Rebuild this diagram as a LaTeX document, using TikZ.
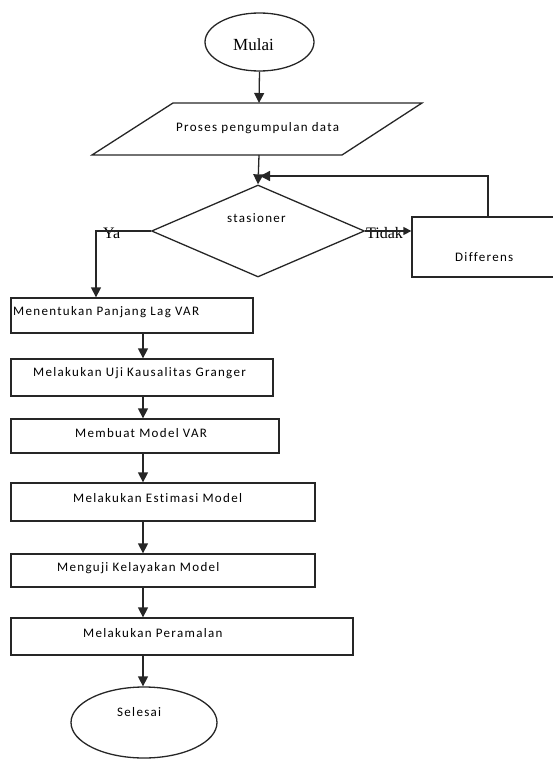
\documentclass[tikz,border=0pt]{standalone}
\usepackage{fontspec}
\setmainfont{Liberation Serif}
\newfontfamily\calfont[LetterSpace=10,Ligatures=NoCommon]{Carlito}
\usetikzlibrary{arrows.meta,shapes.geometric}
\begin{document}
\begin{tikzpicture}[x=1pt,y=-1pt,
  ln/.style={draw=black!85,line width=1.3pt},
  arr/.style={ln,-{Triangle[length=10pt,width=10pt]}},
  lbl/.style={font=\calfont\fontsize{13}{15}\selectfont,inner sep=0pt,anchor=west},
  ser/.style={font=\fontsize{16}{18}\selectfont,inner sep=0pt,anchor=west},
  box/.style={ln,rectangle,inner sep=0pt},
  oval/.style={ln,ellipse,inner sep=0pt}]
\useasboundingbox (0,0) rectangle (553,760);
\clip (0,0) rectangle (553,760);
% start / end
\node[oval,minimum width=109pt,minimum height=58pt] (m) at (259.5,42) {};
\node[oval,minimum width=146pt,minimum height=71pt] (s) at (144,722.5) {};
% parallelogram
\coordinate (p1) at (92,155);
\coordinate (p2) at (173,103);
\coordinate (p3) at (422,103);
\coordinate (p4) at (342,155);
\draw[ln] (p1) -- (p2) -- (p3) -- (p4) -- cycle;
\coordinate (ptop) at (259,103);
\coordinate (pbot) at (259,155);
% decision
\node[ln,diamond,inner sep=0pt,minimum width=213pt,minimum height=92pt] (d) at (258,231) {};
% differens
\node[box,minimum width=148pt,minimum height=60pt] (df) at (486,247) {};
% process boxes
\node[box,minimum width=242pt,minimum height=35pt] (b1) at (132,315.5) {};
\node[box,minimum width=262pt,minimum height=37pt] (b2) at (142,377.5) {};
\node[box,minimum width=268pt,minimum height=34pt] (b3) at (145,436) {};
\node[box,minimum width=304pt,minimum height=38pt] (b4) at (163,502) {};
\node[box,minimum width=304pt,minimum height=33pt] (b5) at (163,570.5) {};
\node[box,minimum width=342pt,minimum height=37pt] (b6) at (182,636.5) {};
% texts
\node[ser,font=\fontsize{17}{19}\selectfont] (tm) at (233,45) {Mulai};
\node[lbl] (tp) at (176,128) {Proses pengumpulan data};
\node[lbl] (td) at (227,218) {stasioner};
\node[ser] (tya) at (103,233) {Ya};
\node[ser] (ttd) at (366,233) {Tidak};
\node[lbl] (tdf) at (455,257) {Differens};
\node[lbl] (t1) at (13,312) {Menentukan Panjang Lag VAR};
\node[lbl] (t2) at (33,373) {Melakukan Uji Kausalitas Granger};
\node[lbl] (t3) at (75,433) {Membuat Model VAR};
\node[lbl] (t4) at (73,498) {Melakukan Estimasi Model};
\node[lbl] (t5) at (57,568) {Menguji Kelayakan Model};
\node[lbl] (t6) at (83,633) {Melakukan Peramalan};
\node[lbl] (ts) at (117,712) {Selesai};
% connectors
\coordinate (ax) at (143,0);
\coordinate (ya) at (96,231);
\coordinate (fb) at (488,176);
\coordinate (fbend) at (260,176);
\draw[arr] (m.south) -- (ptop);
\draw[arr] (pbot) -- (d.north);
\draw[arr] (df.north -| fb) -- (fb) -- (fbend);
\draw[arr] (d.west) -- (ya) -- (ya |- b1.north);
\draw[arr,-{Triangle[length=8pt,width=8pt]}] (d.east) -- (d.east -| df.west);
\draw[arr] (b1.south -| ax) -- (b2.north -| ax);
\draw[arr] (b2.south -| ax) -- (b3.north -| ax);
\draw[arr] (b3.south -| ax) -- (b4.north -| ax);
\draw[arr] (b4.south -| ax) -- (b5.north -| ax);
\draw[arr] (b5.south -| ax) -- (b6.north -| ax);
\draw[arr] (b6.south -| ax) -- (s.north -| ax);
\end{tikzpicture}
\end{document}
